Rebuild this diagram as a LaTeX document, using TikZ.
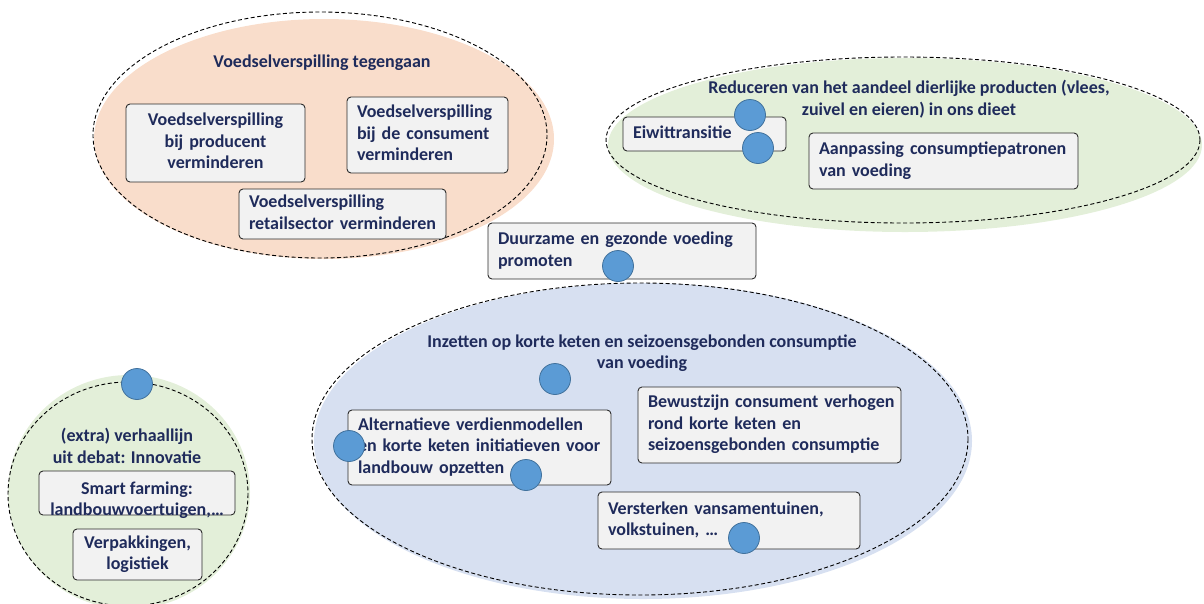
\documentclass[tikz,border=0pt]{standalone}
\usepackage{fontspec}
\setmainfont{Carlito}
\usetikzlibrary{positioning}

\begin{document}
\begin{tikzpicture}[x=1pt, y=-1pt, font=\fontsize{18}{21.5}\selectfont\bfseries]
       \definecolor{navy}{HTML}{1F2B5B}
       \definecolor{peach}{HTML}{F9DDCB}
       \definecolor{lightgreen}{HTML}{E3EFD9}
       \definecolor{lightblue}{HTML}{D7E0F1}
       \definecolor{boxfill}{HTML}{F2F2F2}
       \definecolor{boxline}{HTML}{2B2B2B}
       \definecolor{dotblue}{HTML}{5B9BD5}
       \definecolor{dotline}{HTML}{41719C}
       \newcommand{\boxtxt}[2]{\begin{tabular}{@{}#1@{}}#2\end{tabular}}
       \tikzstyle{group}  = [dash pattern=on 4pt off 2.5pt, line width=0.9pt, draw=black]
       \tikzstyle{title}  = [text=navy, align=center, inner sep=0pt]
       \tikzstyle{box}    = [rectangle, rounded corners=4pt, draw=boxline, fill=boxfill, line width=0.9pt, text=navy, inner xsep=10pt, inner ysep=0pt]
       \tikzstyle{dot}    = [circle, minimum size=31pt, inner sep=0pt, fill=dotblue, draw=dotline, line width=0.8pt]

       \clip (0,0) rectangle (1204,603);

       % groups
       \fill [peach] (324,139) ellipse [x radius=230, y radius=120];
       \draw [group] (320,135) ellipse [x radius=227, y radius=123];
       \fill [lightgreen] (905,145) ellipse [x radius=297, y radius=87];
       \draw [group] (903,140) ellipse [x radius=297, y radius=83];
       \fill [lightblue] (643,441) ellipse [x radius=329, y radius=158];
       \draw [group] (640,439) ellipse [x radius=328, y radius=156];
       \fill [lightgreen] (129,492) ellipse [x radius=121, y radius=117];
       \draw [group] (128,494) ellipse [x radius=120, y radius=112];

       % voedselverspilling
       \node [title] (waste) at (322,63) {Voedselverspilling tegengaan};
       \node [box, minimum height=78pt, text width=159pt, align=center] (wasteprod) at (215.5,143)
         {\boxtxt{c}{Voedselverspilling\\ bij producent\\ verminderen}};
       \node [box, minimum height=76pt, text width=141pt, align=left] (wastecons) at (427.5,135)
         {\boxtxt{l}{Voedselverspilling\\ bij de consument\\ verminderen}};
       \node [box, minimum height=50pt, text width=187pt, align=left] (wasteretail) at (342.5,214)
         {\boxtxt{l}{Voedselverspilling\\ retailsector verminderen}};

       % dierlijke producten
       \node [title] (animal) at (909,99) {Reduceren van het aandeel dierlijke producten (vlees,\\ zuivel en eieren) in ons dieet};
       \node [box, minimum height=34pt, text width=143pt, align=left] (protein) at (704.5,134)
         {\boxtxt{l}{Eiwittransitie}};
       \node [box, minimum height=56pt, text width=249pt, align=left] (pattern) at (943.5,161)
         {\boxtxt{l}{Aanpassing consumptiepatronen\\ van voeding}};

       % duurzame voeding
       \node [box, minimum height=56pt, text width=248pt, align=left] (healthy) at (622,251)
         {\boxtxt{l}{Duurzame en gezonde voeding\\ promoten}};

       % korte keten
       \node [title] (short) at (642,353) {Inzetten op korte keten en seizoensgebonden consumptie\\ van voeding};
       \node [box, minimum height=75pt, text width=243pt, align=left] (income) at (479.5,447.5)
         {\boxtxt{l}{Alternatieve verdienmodellen\\ en korte keten initiatieven voor\\ landbouw opzetten}};
       \node [box, minimum height=76pt, text width=243pt, align=left] (aware) at (769.5,425)
         {\boxtxt{l}{Bewustzijn consument verhogen\\ rond korte keten en\\ seizoensgebonden consumptie}};
       \node [box, minimum height=57pt, text width=242pt, align=left] (garden) at (729,520.5)
         {\boxtxt{l}{Versterken vansamentuinen,\\ volkstuinen, \dots}};

       % innovatie
       \node [title] (innov) at (127,446) {(extra) verhaallijn\\ uit debat: Innovatie};
       \node [box, minimum width=196pt, minimum height=44pt] (smartbox) at (137,493) {};
       \node [title] (smart) at (137,500) {Smart farming:\\ landbouwvoertuigen,\dots};
       \node [box, minimum height=51pt, text width=109pt, align=center] (pack) at (137.5,554.5)
         {\boxtxt{c}{Verpakkingen,\\ logistiek}};

       % markers
       \node [dot] (dotanimal)  at (750,115) {};
       \node [dot] (dotprotein) at (758,148) {};
       \node [dot] (dothealthy) at (618,266) {};
       \node [dot] (dotshort)   at (555,379) {};
       \node [dot] (dotleft)    at (349,446) {};
       \node [dot] (dotincome)  at (526,475) {};
       \node [dot] (dotgarden)  at (744,538) {};
       \node [dot] (dotinnov)   at (137,384) {};
     \end{tikzpicture}
\end{document}
